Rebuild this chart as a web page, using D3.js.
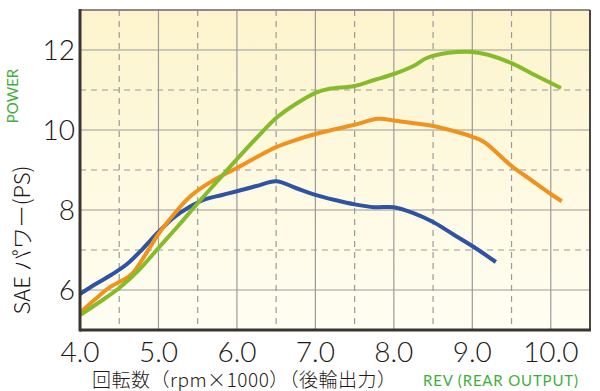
<!DOCTYPE html>
<html><head><meta charset="utf-8">
<script src="https://cdn.jsdelivr.net/npm/d3@7"></script>
<style>body{margin:0;background:#fff}svg{display:block}</style>
</head><body>
<svg id="c" width="600" height="391"></svg>
<script>
const xTicks = [4.0,5.0,6.0,7.0,8.0,9.0,10.0];
const yTicks = [6,8,10,12];
const blue = [[4.0,5.9],[4.2,6.15],[4.4,6.38],[4.6,6.65],[4.8,7.03],[5.0,7.45],[5.2,7.82],[5.4,8.08],[5.6,8.27],[5.8,8.37],[6.0,8.47],[6.25,8.6],[6.5,8.72],[6.75,8.55],[7.0,8.38],[7.25,8.25],[7.5,8.14],[7.75,8.07],[8.0,8.07],[8.25,7.92],[8.5,7.7],[8.75,7.4],[9.0,7.1],[9.3,6.7]];
const orange = [[4.0,5.43],[4.2,5.78],[4.38,6.07],[4.5,6.2],[4.65,6.38],[4.8,6.78],[5.0,7.4],[5.2,7.9],[5.4,8.33],[5.6,8.62],[5.8,8.85],[6.0,9.05],[6.25,9.32],[6.5,9.57],[6.75,9.75],[7.0,9.9],[7.25,10.02],[7.5,10.13],[7.8,10.28],[8.0,10.24],[8.25,10.17],[8.5,10.1],[8.75,9.98],[9.0,9.83],[9.15,9.7],[9.5,9.1],[9.75,8.75],[10.0,8.4],[10.14,8.22]];
const green = [[4.0,5.37],[4.25,5.7],[4.5,6.05],[4.75,6.5],[5.0,7.05],[5.25,7.6],[5.5,8.17],[5.75,8.72],[6.0,9.27],[6.25,9.8],[6.5,10.3],[6.75,10.65],[7.0,10.93],[7.18,11.03],[7.5,11.1],[7.75,11.25],[8.0,11.4],[8.25,11.6],[8.42,11.8],[8.7,11.93],[9.0,11.95],[9.2,11.88],[9.5,11.67],[9.77,11.4],[10.13,11.05]];

const svg = d3.select("#c");
const L=80, R=590, T=10, B=330;
const x = d3.scaleLinear().domain([4,10.5]).range([L,R]);
const y = d3.scaleLinear().domain([5,13]).range([B,T]);

const defs = svg.append("defs");
const g = defs.append("linearGradient").attr("id","bg").attr("x1",0).attr("y1",0).attr("x2",0).attr("y2",1);
g.append("stop").attr("offset","0%").attr("stop-color","#fdf4cc");
g.append("stop").attr("offset","100%").attr("stop-color","#fffef3");
svg.append("rect").attr("x",L).attr("y",T).attr("width",R-L).attr("height",B-T).attr("fill","url(#bg)");

// grid
const vx = d3.range(4.5,10.5,0.5);
svg.append("g").selectAll("line").data(vx).join("line")
  .attr("x1",d=>x(d)).attr("x2",d=>x(d)).attr("y1",T).attr("y2",B)
  .attr("stroke","#9a9a9a").attr("stroke-width",1.2)
  .attr("stroke-dasharray",d=>Number.isInteger(d)?null:"6,5");
const hy = d3.range(6,13,1);
svg.append("g").selectAll("line").data(hy).join("line")
  .attr("x1",L).attr("x2",R).attr("y1",d=>y(d)).attr("y2",d=>y(d))
  .attr("stroke","#9a9a9a").attr("stroke-width",1.2)
  .attr("stroke-dasharray",d=>d%2===0?null:"6,5");

// lines
const line = d3.line().x(d=>x(d[0])).y(d=>y(d[1])).curve(d3.curveCatmullRom.alpha(0.5));
[[blue,"#3052a2"],[orange,"#f0921e"],[green,"#86bb2c"]].forEach(([d,c])=>{
  svg.append("path").attr("d",line(d)).attr("fill","none").attr("stroke",c).attr("stroke-width",4).attr("stroke-linecap","butt");
});

// frame
svg.append("line").attr("x1",L).attr("x2",R).attr("y1",T).attr("y2",T).attr("stroke","#8a8a8a").attr("stroke-width",2);
svg.append("line").attr("x1",R).attr("x2",R).attr("y1",T).attr("y2",B).attr("stroke","#4a4542").attr("stroke-width",2);
svg.append("line").attr("x1",L).attr("x2",R+1).attr("y1",B).attr("y2",B).attr("stroke","#3a3532").attr("stroke-width",3);
svg.append("line").attr("x1",L).attr("x2",L).attr("y1",T-1).attr("y2",B+1.5).attr("stroke","#3a3532").attr("stroke-width",3);

const font = "'Lato Light', Lato, 'Noto Sans', sans-serif";
// tick labels
svg.append("g").selectAll("text").data(yTicks).join("text")
  .attr("x",75).attr("y",d=>y(d)+10).attr("text-anchor","end")
  .attr("font-family",font).attr("font-weight",300).attr("font-size",28).attr("fill","#231815")
  .text(d=>d);
svg.append("g").selectAll("text").data(xTicks).join("text")
  .attr("x",d=>x(d)).attr("y",362).attr("text-anchor","middle")
  .attr("font-family",font).attr("font-weight",300).attr("font-size",28).attr("fill","#231815")
  .text(d=>d.toFixed(1));

// titles
svg.append("text").attr("transform","translate(30,240) rotate(-90)").attr("text-anchor","middle")
  .attr("font-family","'Noto Sans CJK JP', sans-serif").attr("font-weight",300).attr("font-size",22).attr("fill","#231815")
  .text("SAE パワー(PS)");
svg.append("text").attr("transform","translate(18,96) rotate(-90)").attr("text-anchor","middle")
  .attr("font-family","Lato, 'Noto Sans', sans-serif").attr("font-size",15).attr("fill","#3fae3a")
  .text("POWER");
svg.append("text").attr("x",92).attr("y",387)
  .attr("font-family","'Noto Sans CJK JP', sans-serif").attr("font-weight",300).attr("font-size",19).attr("fill","#231815")
  .attr("textLength",304).attr("lengthAdjust","spacing")
  .text("回転数（rpm×1000）（後輪出力）");
svg.append("text").attr("x",423).attr("y",386)
  .attr("font-family","Lato, 'Noto Sans', sans-serif").attr("font-size",15).attr("fill","#3fae3a")
  .attr("textLength",155).attr("lengthAdjust","spacing")
  .text("REV (REAR OUTPUT)");
</script>
</body></html>
